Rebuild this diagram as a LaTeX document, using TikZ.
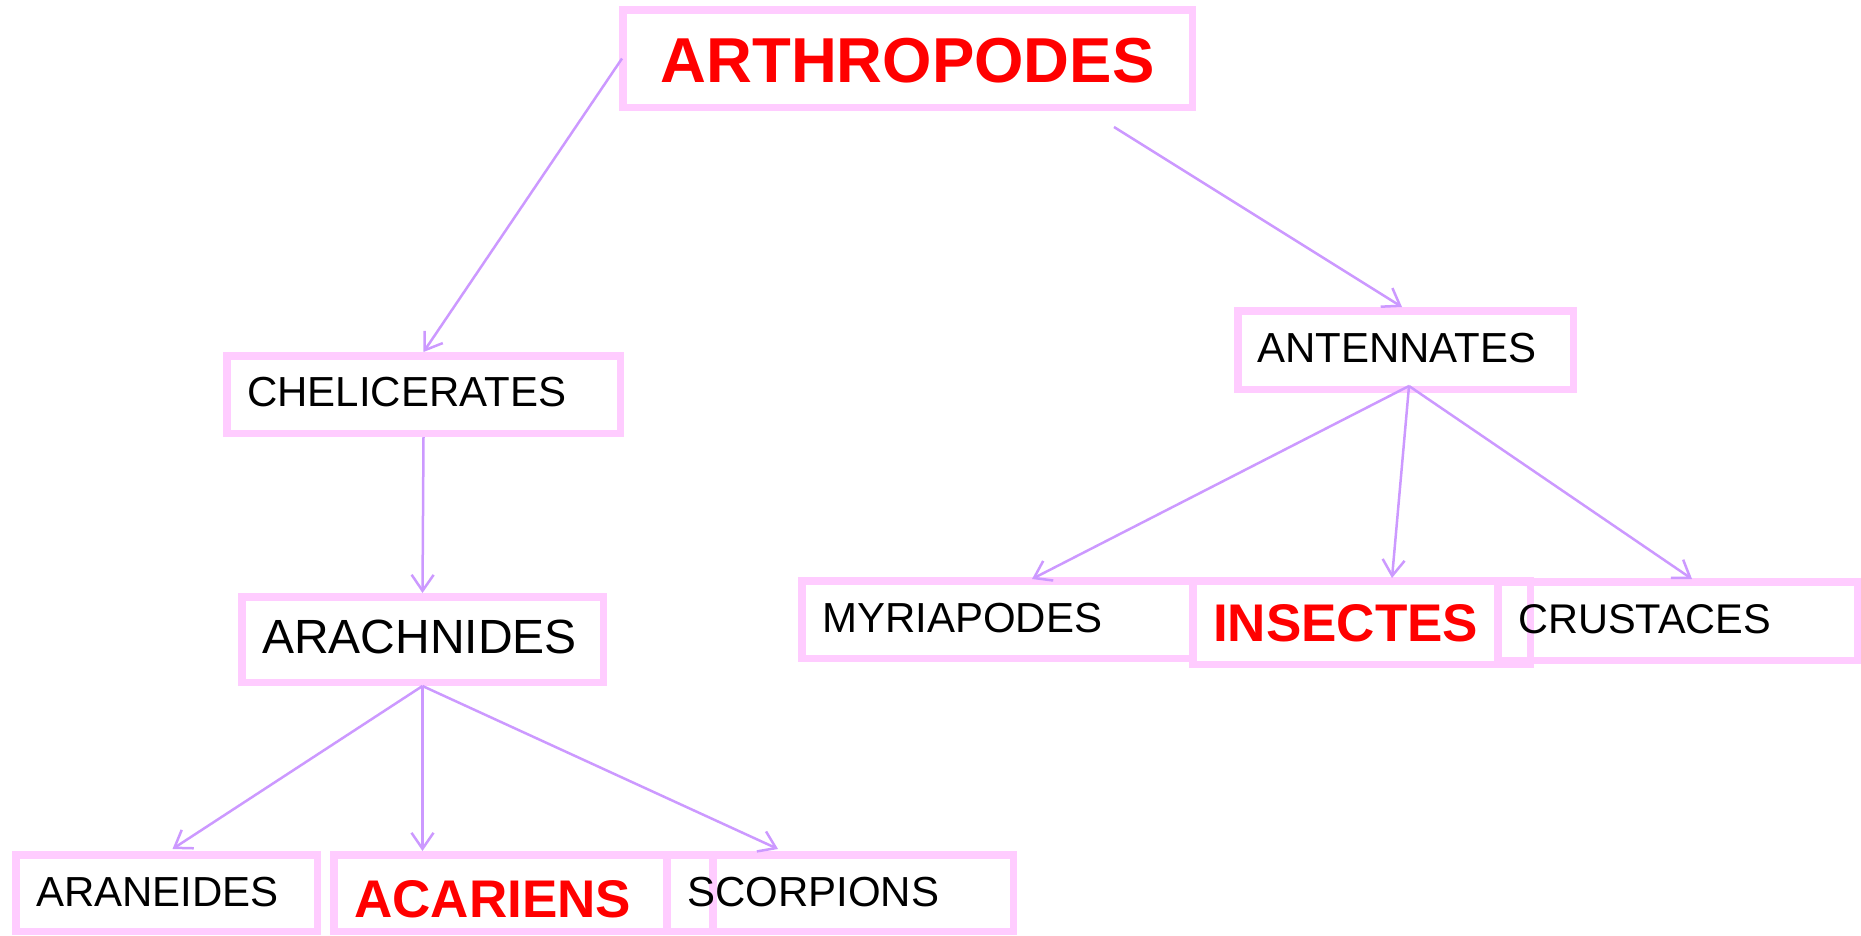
\documentclass[tikz,border=0pt]{standalone}
\usepackage{fontspec}
\setmainfont{Liberation Sans}
\usetikzlibrary{arrows.meta}
\definecolor{boxpink}{HTML}{FFCCFF}
\definecolor{arrowlilac}{HTML}{CC99FF}
\definecolor{titlered}{HTML}{FF0000}
\begin{document}
\begin{tikzpicture}[x=1pt,y=-1pt,
  box/.style={draw=boxpink,line width=7.5pt,rectangle,inner sep=0pt},
  lbl/.style={anchor=base west,inner sep=0pt,text=black,font=\fontsize{42}{50}\selectfont},
  redlbl/.style={anchor=base west,inner sep=0pt,text=titlered,font=\bfseries\fontsize{53}{60}\selectfont},
  conn/.style={draw=arrowlilac,line width=2.5pt,-{Straight Barb[length=16pt,width=22pt]}}]
\useasboundingbox (0,0) rectangle (1861,935);
% boxes
\node[box,minimum width=569.5pt,minimum height=97.5pt] (arth) at (907.5,58.5) {};
\node[box,minimum width=393.5pt,minimum height=77.5pt] (chel) at (423.5,394.5) {};
\node[box,minimum width=361.5pt,minimum height=85.5pt] (arach) at (422.5,639.5) {};
\node[box,minimum width=335.5pt,minimum height=78.5pt] (ant) at (1405.5,350) {};
\node[box,minimum width=390.5pt,minimum height=77.5pt] (myr) at (997,619.5) {};
\node[box,minimum width=337.5pt,minimum height=83.5pt] (ins) at (1361.5,622.5) {};
\node[box,minimum width=359.5pt,minimum height=78.5pt] (crus) at (1677.5,621) {};
\node[box,minimum width=301.5pt,minimum height=76.5pt] (aran) at (166.5,893) {};
\node[box,minimum width=332.5pt,minimum height=76.5pt] (acar) at (500,893) {};
\node[box,minimum width=346.5pt,minimum height=76.5pt] (sbox) at (840,893) {};
\node[box,minimum width=300.5pt,minimum height=76.5pt] (scor) at (863,893) {};
% texts
\node[anchor=base,inner sep=0pt,text=titlered,font=\bfseries\fontsize{63.5}{70}\selectfont] (tarth) at (907.5,82) {ARTHROPODES};
\node[lbl] (tchel) at (247,406) {CHELICERATES};
\node[lbl,font=\fontsize{48}{56}\selectfont] (tarach) at (262,653) {ARACHNIDES};
\node[lbl] (tant) at (1257,362) {ANTENNATES};
\node[lbl] (tmyr) at (822,632) {MYRIAPODES};
\node[redlbl] (tins) at (1213,641) {INSECTES};
\node[lbl,font=\fontsize{41.5}{50}\selectfont] (tcrus) at (1518,633) {CRUSTACES};
\node[lbl] (taran) at (36,906) {ARANEIDES};
\node[redlbl] (tacar) at (354,917) {ACARIENS};
\node[lbl] (tscor) at (687,906) {SCORPIONS};
% connectors
\coordinate (antstart) at (1114,127);
\draw[conn] ([xshift=3pt]arth.west) -- (chel.north);
\draw[conn] (antstart) -- ([xshift=-3.5pt]ant.north);
\draw[conn] (chel.south) -- (arach.north);
\draw[conn] (arach.south) -- ([xshift=6pt,yshift=2pt]aran.north);
\draw[conn] (arach.south) -- (arach.south |- acar.north);
\draw[conn] (arach.south) -- ([xshift=-85pt,yshift=2pt]scor.north);
\draw[conn] ([xshift=3.5pt,yshift=7pt]ant.south) -- ([xshift=35pt,yshift=-2pt]myr.north);
\draw[conn] ([xshift=3.5pt,yshift=7pt]ant.south) -- ([xshift=30.5pt,yshift=-1pt]ins.north);
\draw[conn] ([xshift=3.5pt,yshift=7pt]ant.south) -- ([xshift=14.5pt,yshift=-1pt]crus.north);
\end{tikzpicture}
\end{document}
